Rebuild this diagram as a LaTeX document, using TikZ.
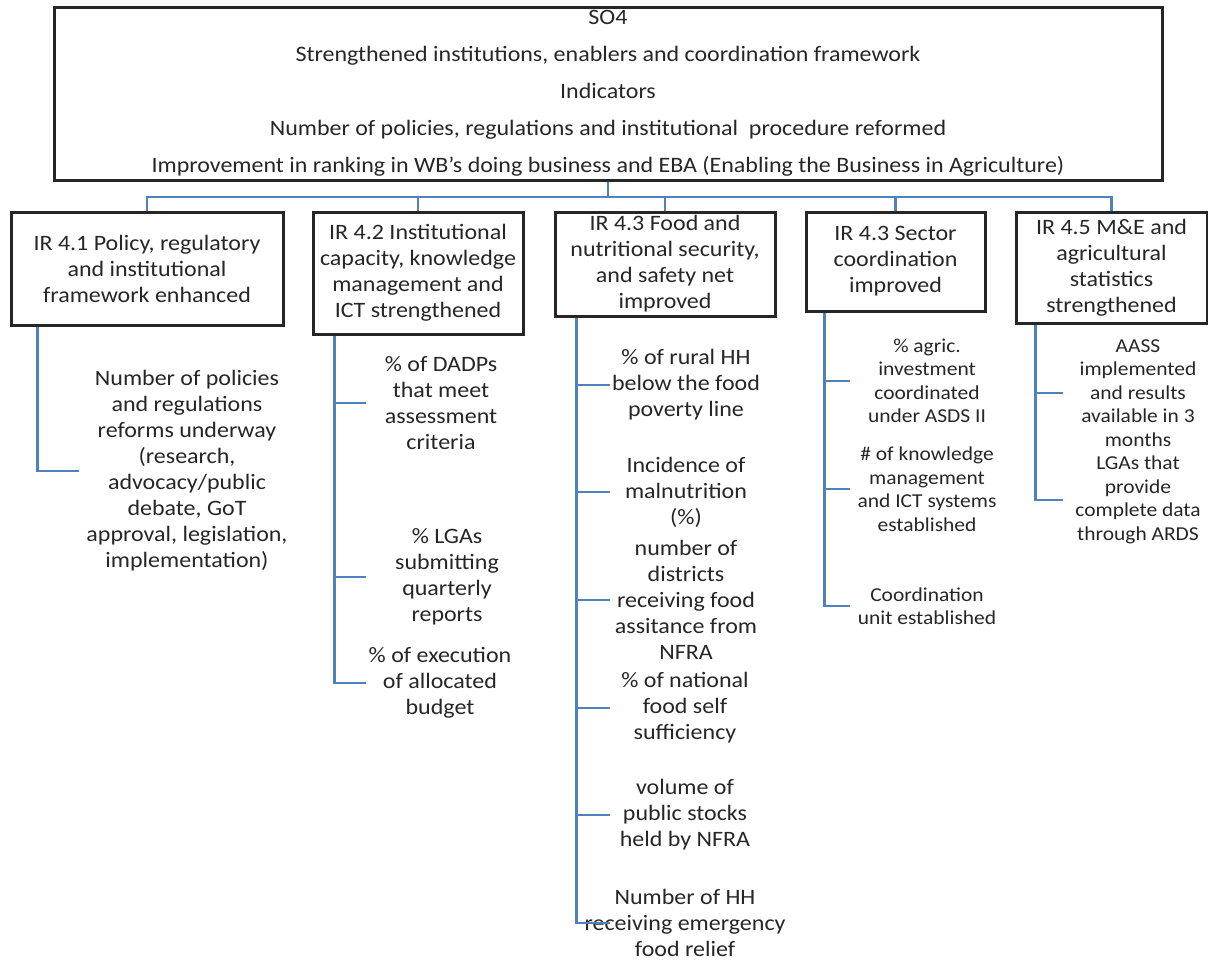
\documentclass[tikz,border=0pt]{standalone}
\usepackage{fontspec}
\setmainfont{Carlito}[FakeStretch=1.09]

\definecolor{linkblue}{RGB}{79,129,189}

\tikzset{component/.style={
    draw=black!85,
    line width=3pt,
    inner sep=0pt
}}
\tikzset{indicator/.style={inner sep=0pt}}
\tikzset{smallindicator/.style={
    inner sep=0pt,
    font=\fontsize{19.7}{23.5}\selectfont
}}
\tikzset{connector/.style={draw=linkblue, line width=2.6pt}}

\begin{document}
\begin{tikzpicture}[
            x=1pt, y=-1pt,
            align=center,
            text=black!85,
            font=\fontsize{22}{26}\selectfont,
    ]
        \useasboundingbox (0,0) rectangle (1208,962);

        \node[component, minimum width=1108pt, minimum height=173pt,
              font=\fontsize{22}{37}\selectfont]
            (so4) at (608,93.5)
            {SO4\\
             Strengthened institutions, enablers and coordination framework\\
             Indicators\\
             Number of policies, regulations and institutional\ \ procedure reformed\\
             Improvement in ranking in WB's doing business and EBA (Enabling the Business in Agriculture)};

        % result boxes
        \node[component, minimum width=272pt, minimum height=113pt]
            (ir41) at (147,268.5)
            {IR 4.1 Policy, regulatory\\and institutional\\framework enhanced};

        \node[component, minimum width=210pt, minimum height=122pt]
            (ir42) at (418,273)
            {IR 4.2 Institutional\\capacity, knowledge\\management and\\ICT strengthened};

        \node[component, minimum width=220pt, minimum height=104pt]
            (ir43) at (665,264)
            {IR 4.3 Food and\\nutritional security,\\and safety net\\improved};

        \node[component, minimum width=179pt, minimum height=99pt]
            (ir44) at (895.5,261.5)
            {IR 4.3 Sector\\coordination\\improved};

        \node[component, minimum width=191pt, minimum height=111pt]
            (ir45) at (1111.5,267.5)
            {IR 4.5 M\&E and\\agricultural\\statistics\\strengthened};

        % indicators
        \node[indicator] (ind41) at (187,471)
            {Number of policies\\and regulations\\reforms underway\\(research,\\advocacy/public\\debate, GoT\\approval, legislation,\\implementation)};

        \node[indicator] (ind421) at (441,403)
            {\% of DADPs\\that meet\\assessment\\criteria};
        \node[indicator] (ind422) at (447,577)
            {\% LGAs\\submitting\\quarterly\\reports};
        \node[indicator] (ind423) at (440,683)
            {\% of execution\\of allocated\\budget};

        \node[indicator] (ind431) at (686,385)
            {\% of rural HH\\below the food\\poverty line};
        \node[indicator] (ind432) at (686,492)
            {Incidence of\\malnutrition\\(\%)};
        \node[indicator] (ind433) at (686,600)
            {number of\\districts\\receiving food\\assitance from\\NFRA};
        \node[indicator] (ind434) at (685,708)
            {\% of national\\food self\\sufficiency};
        \node[indicator] (ind435) at (685,815)
            {volume of\\public stocks\\held by NFRA};
        \node[indicator] (ind436) at (685,923)
            {Number of HH\\receiving emergency\\food relief};

        \node[smallindicator] (ind441) at (927,381)
            {\% agric.\\investment\\coordinated\\under ASDS II};
        \node[smallindicator] (ind442) at (927,489)
            {\# of knowledge\\management\\and ICT systems\\established};
        \node[smallindicator] (ind443) at (927,606)
            {Coordination\\unit established};

        \node[smallindicator] (ind451) at (1138,393)
            {AASS\\implemented\\and results\\available in 3\\months};
        \node[smallindicator] (ind452) at (1138,500)
            {LGAs that\\provide\\complete data\\through ARDS};

        % tree from SO4 to the results
        \coordinate (bus) at (608,197);
        \draw[connector] (so4.south) -- (bus);
        \draw[connector] (bus) -| (ir41.north);
        \draw[connector] (bus) -| (ir42.north);
        \draw[connector] (bus) -| (ir43.north);
        \draw[connector] (bus) -| (ir44.north);
        \draw[connector] (bus) -| (ir45.north);

        % trunks down to the indicators
        \coordinate (trunk41) at ([xshift=28pt]ir41.south west);
        \coordinate (trunk42) at ([xshift=23pt]ir42.south west);
        \coordinate (trunk43) at ([xshift=23pt]ir43.south west);
        \coordinate (trunk44) at ([xshift=20pt]ir44.south west);
        \coordinate (trunk45) at ([xshift=21pt]ir45.south west);

        \draw[connector] (trunk41) -- (trunk41 |- ind41.center) -- ++(41,0);

        \draw[connector] (trunk42) -- (trunk42 |- ind423.center) -- ++(31,0);
        \draw[connector] (trunk42 |- ind421.center) -- ++(31,0);
        \draw[connector] (trunk42 |- ind422.center) -- ++(31,0);

        \draw[connector] (trunk43) -- (trunk43 |- ind436.center) -- ++(33,0);
        \draw[connector] (trunk43 |- ind431.center) -- ++(33,0);
        \draw[connector] (trunk43 |- ind432.center) -- ++(33,0);
        \draw[connector] (trunk43 |- ind433.center) -- ++(33,0);
        \draw[connector] (trunk43 |- ind434.center) -- ++(33,0);
        \draw[connector] (trunk43 |- ind435.center) -- ++(33,0);

        \draw[connector] (trunk44) -- (trunk44 |- ind443.center) -- ++(25,0);
        \draw[connector] (trunk44 |- ind441.center) -- ++(25,0);
        \draw[connector] (trunk44 |- ind442.center) -- ++(25,0);

        \draw[connector] (trunk45) -- (trunk45 |- ind452.center) -- ++(27,0);
        \draw[connector] (trunk45 |- ind451.center) -- ++(27,0);

    \end{tikzpicture}
\end{document}
